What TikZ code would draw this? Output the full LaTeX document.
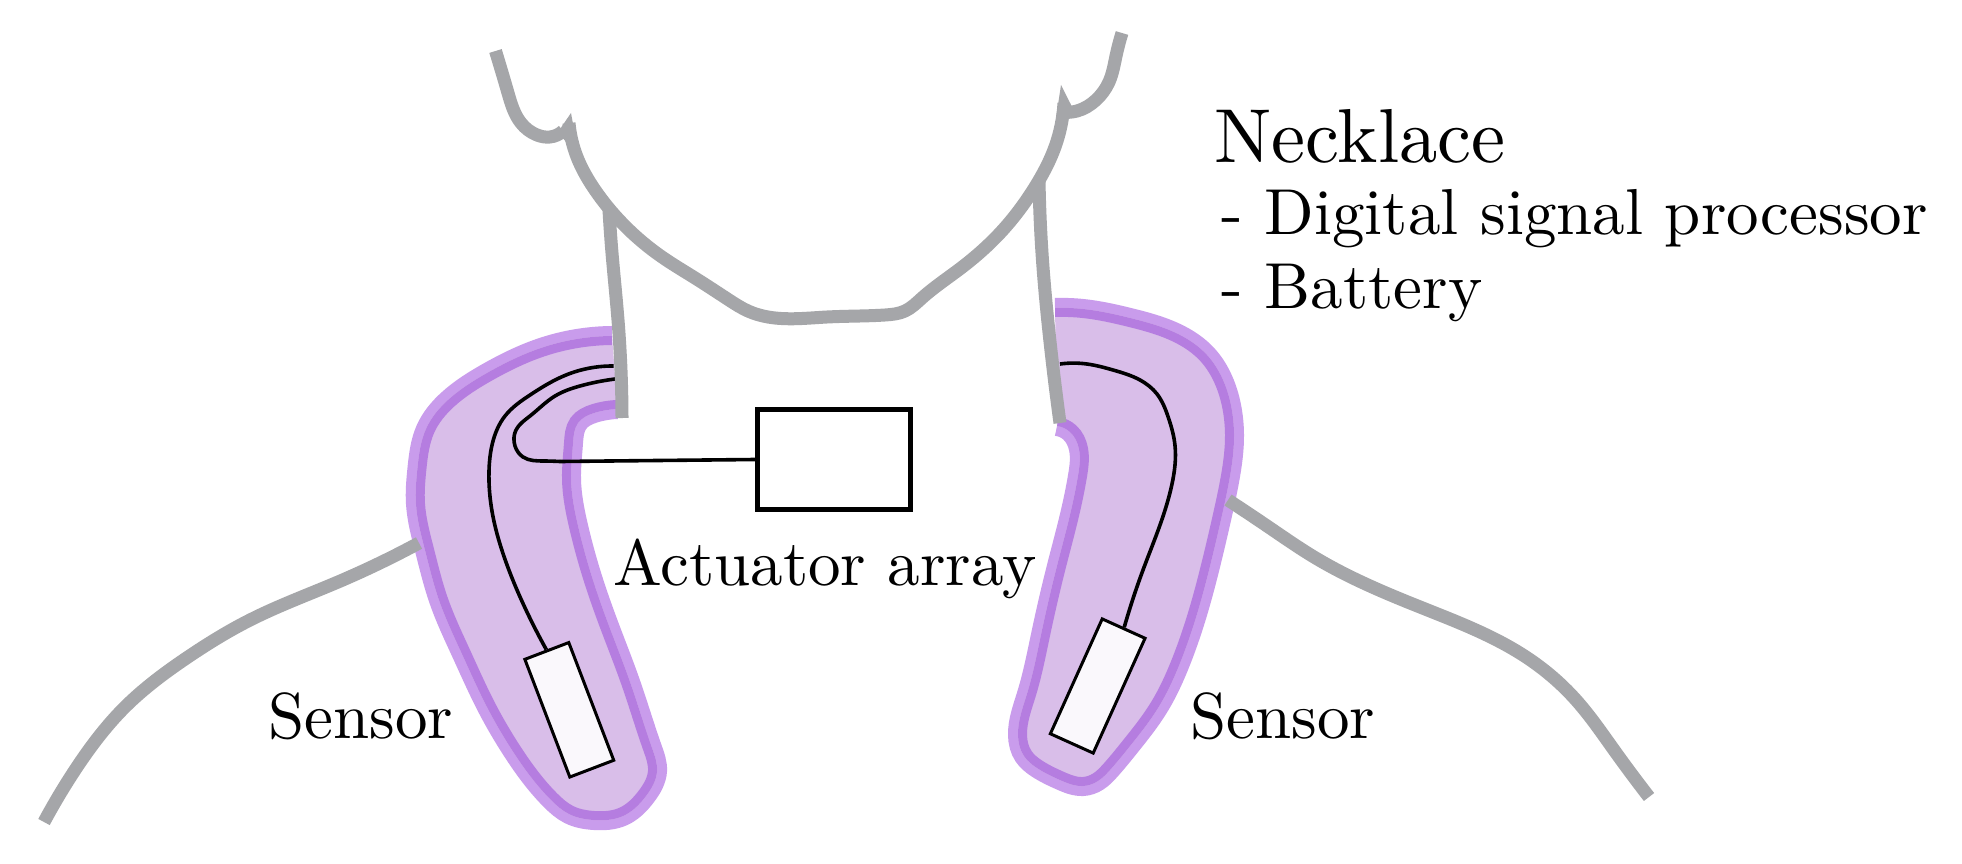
\documentclass[tikz,border=0pt]{standalone}
\usetikzlibrary{hobby}
\definecolor{skin}{HTML}{A5A6A9}
\definecolor{bandlight}{HTML}{C99CEC}
\definecolor{banddark}{HTML}{B57DE0}
\definecolor{blobfill}{HTML}{D9BEE9}
\definecolor{sensorfill}{HTML}{FAF8FC}
\tikzset{
  skinline/.style={draw=skin,line width=13pt,line join=round,use Hobby shortcut},
  wire/.style={draw=black,line width=3.6pt,use Hobby shortcut},
  sensorbox/.style={draw=black,line width=3pt,fill=sensorfill,inner sep=0pt,minimum width=126pt,minimum height=47pt,shape=rectangle},
  actuatorbox/.style={draw=black,line width=5pt,fill=white,inner sep=0pt,minimum width=153pt,minimum height=100pt,shape=rectangle},
  label/.style={anchor=base west,inner sep=0pt,scale=6.5},
  biglabel/.style={anchor=base west,inner sep=0pt,scale=7.65},
}
\newcommand\leftblob{(612,336) .. (541,348) .. (487,373) .. (448,400) .. (426,429) .. (417.5,468) .. (416,504) .. (425,550) .. (439,600) .. (462,654) .. (487,707) .. (512,750) .. (551,800) .. (569,814) .. (594,820) .. (623,816) .. (646,796) .. (657,771) .. (652,748) .. (630,682) .. (609,626) .. (591,574) .. (578,526) .. (571,479) .. (573,443) .. (578,423) .. (594,413) .. (617.5,409)}
\newcommand\rightblob{(1055,308) .. (1083,309) .. (1130,318) .. (1180,335) .. (1207,355) .. (1223,380) .. (1232,411) .. (1234,435) .. (1230,476) .. (1222,515) .. (1210,566) .. (1197,614) .. (1180,663) .. (1158,708) .. (1130,746) .. (1110,770) .. (1098,781) .. (1083,786) .. (1060,780) .. (1037,768) .. (1024,756) .. (1018,735) .. (1027,694) .. (1041,635) .. (1057,566) .. (1070,515) .. (1078,476) .. (1079,449) .. (1070,432) .. (1057,426)}
\newcommand\blob[1]{%
  \draw[bandlight,line width=20pt,use Hobby shortcut] #1;
  \fill[blobfill,use Hobby shortcut] #1;
  \begin{scope}
    \clip[use Hobby shortcut] #1;
    \draw[banddark,line width=18pt,use Hobby shortcut] #1;
  \end{scope}}
\begin{document}
\begin{tikzpicture}[x=1pt,y=-1pt]
\path[use as bounding box,fill=white] (0,0) rectangle (1962,864);
\blob{\leftblob}
\blob{\rightblob}
% components
\node[actuatorbox] (act) at (834,459.5) {};
\node[sensorbox,rotate=-69.1] (sl) at (569.3,709.8) {};
\node[sensorbox,rotate=245.7] (sr) at (1097.7,686) {};
\coordinate (wa) at (613.5,366);
\coordinate (wb) at (615,379);
\coordinate (wc) at (1060,364);
\coordinate (wd) at (560,461.5);
% wires
\draw[wire] (wa) .. (566,375) .. (530,395) .. (505,416) .. (492.5,443) .. (489,471) .. (492.5,514) .. (503,553.5) .. (523,603.5) .. (sl.west);
\draw[wire] (wb) .. (580,386) .. (555,396) .. (530,416) .. (516,430) .. (515,446) .. (523,457) .. (544,461) .. (wd);
\draw[wire] (wd) -- (act.west);
\draw[wire] (wc) .. (1087,364) .. (1113,370) .. (1140,380) .. (1157,394) .. (1168,416.5) .. (1175,445.5) .. (1172,484) .. (1160,525) .. (1143,570) .. (sr.west);
% neck
\draw[skinline] (609,210) .. (612,253) .. (618,320) .. (622,418);
\draw[skinline] (1039,180) .. (1042,253) .. (1049.5,337) .. (1060,423);
% chin
\draw[skinline] (569,123) .. (577,157) .. (595,190) .. (622,223) .. (662,257) .. (695,278) .. (729,300) .. (748,311) .. (768,317) .. (827,317) .. (885,315) .. (905,311) .. (922,298) .. (961,268) .. (1001,232) .. (1035,187) .. (1055,147) .. (1064,103);
% ears
\draw[skinline] (495.5,51) .. (508,93) .. (521,123) .. (537,135) .. (550,137) .. (563,131);
\draw[skinline] (1122,33) .. (1116,56) .. (1109,82) .. (1096,100) .. (1077,111) .. (1062,112);
\fill[skin] (571,113) -- (558,132) -- (566,142) -- (576,140) -- cycle;
\fill[skin] (1061,85) -- (1072,107) -- (1068,118) -- (1056,118) -- cycle;
% shoulders
\draw[skinline] (419,543) .. (338,582) .. (250,620) .. (188,657) .. (125,707) .. (75,770) .. (44,822);
\draw[skinline] (1228,500) .. (1270,528) .. (1314,557) .. (1420,607) .. (1526,657) .. (1576,700) .. (1614,750) .. (1649,797);
% text
\node[biglabel] (t1) at (1213,163) {Necklace};
\node[label] (t2) at (1220,234) {- Digital signal processor};
\node[label] (t3) at (1220,308) {- Battery};
\node[label] (t4) at (612,585) {Actuator array};
\node[label] (t5) at (267,738) {Sensor};
\node[label] (t6) at (1189,738) {Sensor};
\end{tikzpicture}
\end{document}
